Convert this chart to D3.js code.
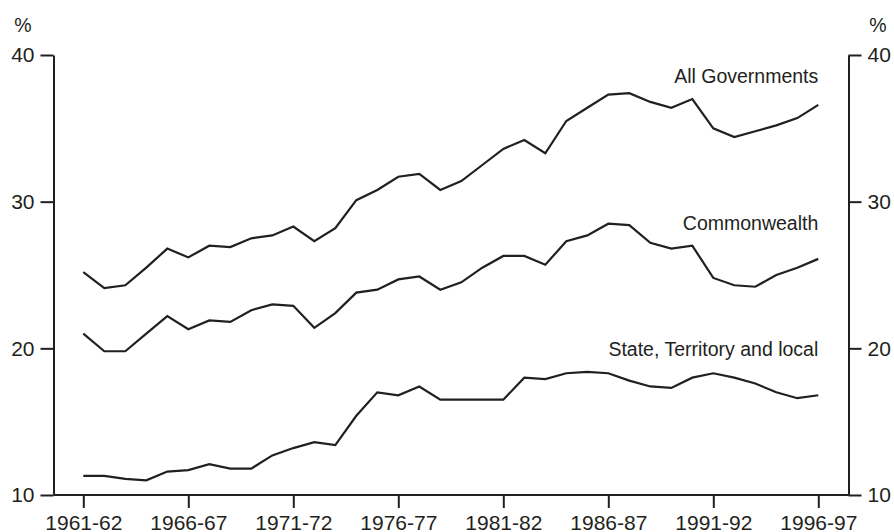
<!DOCTYPE html>
<html>
<head>
<meta charset="utf-8">
<script src="https://cdn.jsdelivr.net/npm/d3@7"></script>
<style>
  body { margin: 0; background: #fff; }
  svg text { font-family: "Liberation Sans", Arial, sans-serif; fill: #231f20; }
</style>
</head>
<body>
<svg width="894" height="532"></svg>
<script>
// Financial years, 1961-62 to 1996-97
var years = ["1961-62","1962-63","1963-64","1964-65","1965-66","1966-67","1967-68","1968-69",
  "1969-70","1970-71","1971-72","1972-73","1973-74","1974-75","1975-76","1976-77","1977-78",
  "1978-79","1979-80","1980-81","1981-82","1982-83","1983-84","1984-85","1985-86","1986-87",
  "1987-88","1988-89","1989-90","1990-91","1991-92","1992-93","1993-94","1994-95","1995-96","1996-97"];

var allGov = [25.2,24.1,24.3,25.5,26.8,26.2,27.0,26.9,27.5,27.7,28.3,27.3,28.2,30.1,30.8,31.7,31.9,30.8,
  31.4,32.5,33.6,34.2,33.3,35.5,36.4,37.3,37.4,36.8,36.4,37.0,35.0,34.4,34.8,35.2,35.7,36.6];

var commonwealth = [21.0,19.8,19.8,21.0,22.2,21.3,21.9,21.8,22.6,23.0,22.9,21.4,22.4,23.8,24.0,24.7,24.9,
  24.0,24.5,25.5,26.3,26.3,25.7,27.3,27.7,28.5,28.4,27.2,26.8,27.0,24.8,24.3,24.2,25.0,25.5,26.1];

var stateLocal = [11.3,11.3,11.1,11.0,11.6,11.7,12.1,11.8,11.8,12.7,13.2,13.6,13.4,15.4,17.0,16.8,17.4,16.5,
  16.5,16.5,16.5,18.0,17.9,18.3,18.4,18.3,17.8,17.4,17.3,18.0,18.3,18.0,17.6,17.0,16.6,16.8];

var yTicks = [10, 20, 30, 40];
var xTickLabels = ["1961-62","1966-67","1971-72","1976-77","1981-82","1986-87","1991-92","1996-97"];

// series names, with the value where each label's baseline sits
var series = [
  { name: "All Governments", values: allGov, labelAt: 38.1 },
  { name: "Commonwealth", values: commonwealth, labelAt: 28.05 },
  { name: "State, Territory and local", values: stateLocal, labelAt: 19.45 }
];

(function() {
  var svg = d3.select("svg"),
      plotLeft = 53.5, plotRight = 848.5, plotTop = 55, plotBottom = 495,
      ink = "#231f20";

  var x = d3.scalePoint().domain(years).range([83.3, 818.3]);
  var y = d3.scaleLinear().domain([10, 40]).range([plotBottom, plotTop]);

  // left axis
  var gl = svg.append("g").attr("transform", "translate(" + plotLeft + ",0)")
      .call(d3.axisLeft(y).tickValues(yTicks).tickSize(13).tickSizeOuter(0).tickPadding(6));

  // right axis
  var gr = svg.append("g").attr("transform", "translate(" + plotRight + ",0)")
      .call(d3.axisRight(y).tickValues(yTicks).tickSize(13).tickSizeOuter(0).tickPadding(6));

  // bottom axis
  var gb = svg.append("g").attr("transform", "translate(0," + plotBottom + ")")
      .call(d3.axisBottom(x).tickValues(xTickLabels).tickSize(13).tickSizeOuter(0).tickPadding(7));
  gb.select(".domain").remove();
  gb.append("line")
      .attr("x1", plotLeft).attr("x2", plotRight)
      .attr("y1", 0).attr("y2", 0);

  [gl, gr, gb].forEach(function(g) {
    g.selectAll("path, line").attr("stroke", ink).attr("stroke-width", 2);
    g.selectAll("text").attr("fill", ink)
      .style("font-family", "'Liberation Sans', Arial, sans-serif")
      .style("font-size", "21px");
  });

  // % units
  svg.append("text").attr("x", 23).attr("y", 32).attr("text-anchor", "middle")
      .style("font-size", "19.5px").text("%");
  svg.append("text").attr("x", 878).attr("y", 32).attr("text-anchor", "middle")
      .style("font-size", "19.5px").text("%");

  var line = d3.line()
      .x(function(d, i) { return x(years[i]); })
      .y(function(d) { return y(d); });

  svg.selectAll(".series")
      .data(series)
      .enter().append("path")
      .attr("class", "series")
      .attr("d", function(d) { return line(d.values); })
      .attr("fill", "none")
      .attr("stroke", ink)
      .attr("stroke-width", 2.2);

  svg.selectAll(".label")
      .data(series)
      .enter().append("text")
      .attr("class", "label")
      .attr("x", x(years[years.length - 1]))
      .attr("y", function(d) { return y(d.labelAt); })
      .attr("text-anchor", "end")
      .style("font-size", "19.5px")
      .text(function(d) { return d.name; });
})();
</script>
</body>
</html>
